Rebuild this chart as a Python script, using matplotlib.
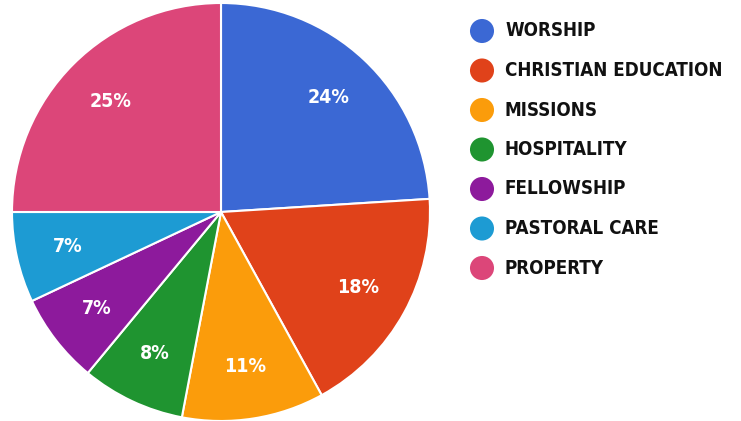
import matplotlib.pyplot as plt

categories = ["WORSHIP", "CHRISTIAN EDUCATION", "MISSIONS", "HOSPITALITY",
              "FELLOWSHIP", "PASTORAL CARE", "PROPERTY"]
shares = [24, 18, 11, 8, 7, 7, 25]
colors = ["#3b68d4", "#e0421a", "#fb9c0b", "#1f9430", "#8d1a9c", "#1d9bd3", "#dc4679"]

W, H = 741, 421
fig = plt.figure(figsize=(W / 100, H / 100), dpi=100)
fig.patch.set_facecolor("white")

font = dict(family="DejaVu Sans", stretch="condensed", fontweight="bold")

# pie area (pixel based)
cx, cy, r = 221, 212, 209
ax = fig.add_axes([(cx - r) / W, (H - cy - r) / H, 2 * r / W, 2 * r / H])
wedges, texts, autotexts = ax.pie(
    shares, colors=colors, startangle=90, counterclock=False,
    autopct="%d%%", pctdistance=0.75, radius=1,
    wedgeprops=dict(edgecolor="white", linewidth=1.5),
    textprops=dict(color="white", fontsize=14, **font))
ax.set_xlim(-1, 1)
ax.set_ylim(-1, 1)
ax.set_aspect("equal")

# legend drawn by hand
lg = fig.add_axes([0, 0, 1, 1])
lg.set_xlim(0, W)
lg.set_ylim(H, 0)
lg.axis("off")
for i, (name, col) in enumerate(zip(categories, colors)):
    y = 31 + i * 39.5
    lg.scatter([482], [y], s=300, color=col, edgecolors="none")
    lg.text(505, y, name, fontsize=13.5, color="#111111",
            va="center", ha="left", **font)

fig.savefig("out.png", dpi=100)
